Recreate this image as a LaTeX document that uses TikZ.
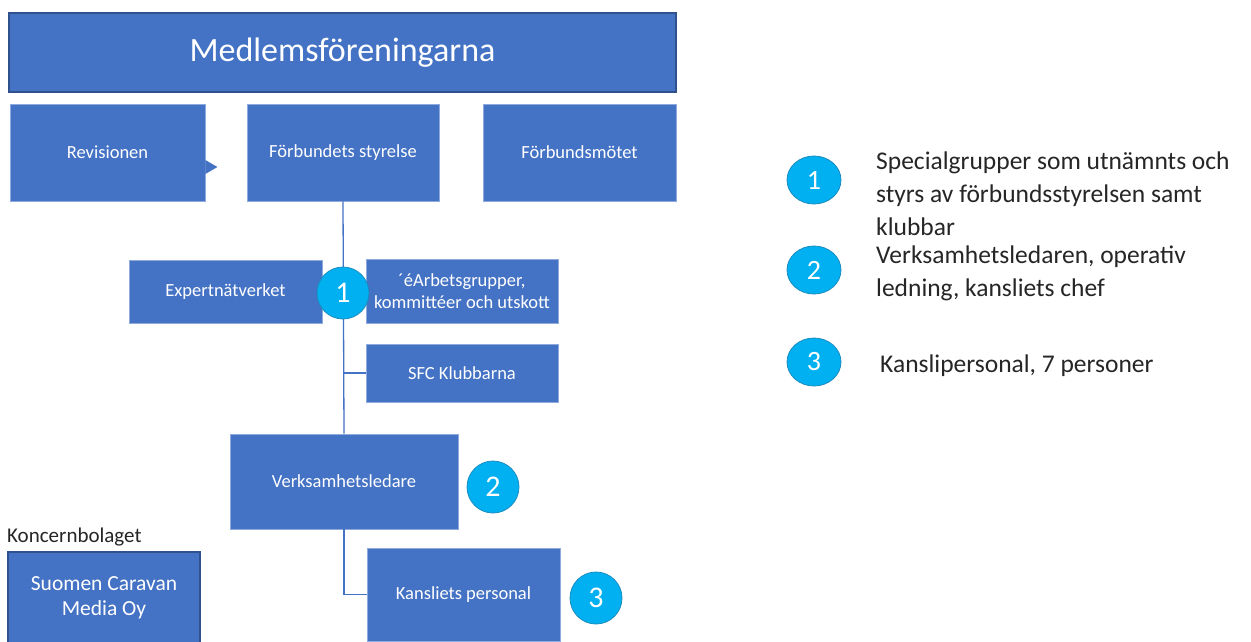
\documentclass[tikz,border=0pt]{standalone}
\usepackage{fontspec}
\setmainfont{Carlito}
\usetikzlibrary{shapes.geometric}
\definecolor{boxblue}{HTML}{4472C4}
\definecolor{boxedge}{HTML}{2F528F}
\definecolor{numfill}{HTML}{00B0F0}
\definecolor{numedge}{HTML}{1B8CC0}
\begin{document}
\begin{tikzpicture}[x=1pt,y=-1pt,
  box/.style={fill=boxblue, draw=boxblue!60!white, line width=0.8pt, text=white,
    font=\fontsize{18.5}{22}\selectfont, inner sep=0pt, align=center},
  darkbox/.style={box, draw=boxedge, line width=1.2pt},
  conn/.style={draw=boxblue, line width=1.3pt},
  num/.style={circle, fill=numfill, draw=numedge, line width=0.8pt, text=white,
    font=\fontsize{30}{32}\selectfont, minimum size=52pt, inner sep=0pt},
  lnum/.style={ellipse, fill=numfill, draw=numedge, line width=0.8pt, text=white,
    font=\fontsize{28}{30}\selectfont, minimum width=54pt, minimum height=48pt, inner sep=0pt},
  legend/.style={anchor=north west, inner sep=0pt, align=left, text=black!85,
    font=\fontsize{25.5}{33}\selectfont}]
\useasboundingbox (0,0) rectangle (1251,641);
\fill[white] (0,0) rectangle (1251,641);

\node[darkbox, minimum width=667pt, minimum height=79pt, font=\fontsize{34}{38}\selectfont] (top) at (342.5,52.5) {Medlemsföreningarna};

\node[box, minimum width=195pt, minimum height=97pt] (rev) at (107.5,152.5) {Revisionen};
\node[box, minimum width=192pt, minimum height=97pt] (fs) at (343,152.5) {Förbundets styrelse};
\node[box, minimum width=193pt, minimum height=97pt] (fm) at (579.5,152.5) {Förbundsmötet};
\fill[boxblue] ([yshift=-7.5pt]rev.east) -- ([xshift=12pt,yshift=-14.5pt]rev.east) -- ([yshift=-21.5pt]rev.east) -- cycle;

\node[box, minimum width=193pt, minimum height=63pt] (exp) at (225.5,291.5) {Expertnätverket};
\node[box, minimum width=192pt, minimum height=64pt] (arb) at (462,291) {´éArbetsgrupper,\\kommittéer och utskott};
\node[box, minimum width=192pt, minimum height=58pt] (sfc) at (462,373) {SFC Klubbarna};
\node[box, minimum width=228pt, minimum height=95pt] (vl) at (344,481.5) {Verksamhetsledare};
\node[box, minimum width=193pt, minimum height=93pt] (kp) at (463.5,594.5) {Kansliets personal};

\node[anchor=west, inner sep=0pt, font=\fontsize{21}{24}\selectfont, text=black!85] (kb) at (7,537) {Koncernbolaget};
\node[darkbox, minimum width=192pt, minimum height=91pt, font=\fontsize{21.5}{25}\selectfont] (scm) at (104,597.5) {Suomen Caravan\\Media Oy};

\draw[conn] (fs.south) -- (vl.north);
\draw[conn] (sfc.west) -- (sfc.west -| fs.south);
\draw[conn] (vl.south) |- (kp.west);

\node[num] (n1) at (343,293) {1};
\node[num] (n2) at (493,487) {2};
\node[num] (n3) at (596,598) {3};

\node[lnum] (l1) at (814,180) {1};
\node[lnum] (l2) at (814,270) {2};
\node[lnum] (l3) at (814,362) {3};

\node[legend] (t1) at (876,152) {Specialgrupper som utnämnts och\\styrs av förbundsstyrelsen samt\\klubbar};
\node[legend] (t2) at (876,246) {Verksamhetsledaren, operativ\\ledning, kansliets chef};
\node[legend] (t3) at (880,355) {Kanslipersonal, 7 personer};
\end{tikzpicture}
\end{document}
